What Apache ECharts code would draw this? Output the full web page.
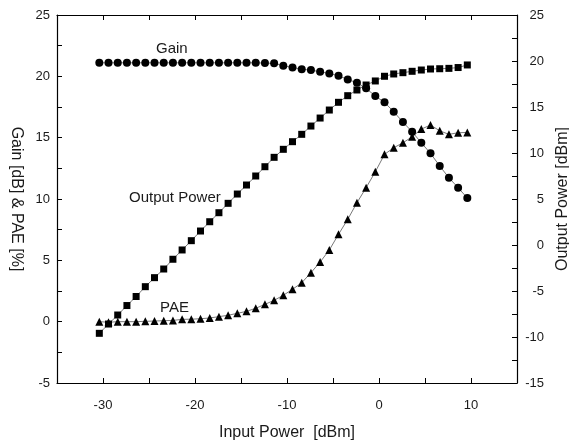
<!DOCTYPE html>
<html>
<head>
<meta charset="utf-8">
<script src="https://cdn.jsdelivr.net/npm/echarts@6/dist/echarts.min.js"></script>
<style>html,body{margin:0;padding:0;background:#fff}#c{width:569px;height:443px}</style>
</head>
<body>
<div id="c"></div>
<script>
var inputPower = [-30.4,-29.4,-28.4,-27.4,-26.4,-25.4,-24.4,-23.4,-22.4,-21.4,-20.4,-19.4,-18.4,-17.4,-16.4,-15.4,-14.4,-13.4,-12.4,-11.4,-10.4,-9.4,-8.4,-7.4,-6.4,-5.4,-4.4,-3.4,-2.4,-1.4,-0.4,0.6,1.6,2.6,3.6,4.6,5.6,6.6,7.6,8.6,9.6];
var gain = [21.1,21.1,21.1,21.1,21.1,21.1,21.1,21.1,21.1,21.1,21.1,21.1,21.1,21.1,21.1,21.1,21.1,21.1,21.08,21.06,20.86,20.73,20.57,20.51,20.37,20.24,20.04,19.75,19.47,19.02,18.39,17.88,17.11,16.27,15.48,14.58,13.72,12.69,11.73,10.92,10.08];
var outputPower = [-9.6,-8.59,-7.61,-6.58,-5.6,-4.53,-3.55,-2.61,-1.55,-0.54,0.47,1.52,2.53,3.51,4.53,5.54,6.52,7.5,8.51,9.53,10.4,11.23,12.03,12.93,13.8,14.67,15.51,16.23,16.85,17.39,17.83,18.34,18.59,18.73,18.88,19.02,19.13,19.16,19.2,19.29,19.57];
var pae = [0.0,-0.05,0.0,0.0,0.0,0.03,0.05,0.08,0.1,0.19,0.2,0.24,0.3,0.41,0.52,0.68,0.84,1.09,1.41,1.74,2.15,2.64,3.17,3.99,4.86,5.84,7.12,8.34,9.69,10.92,12.22,13.64,14.18,14.58,15.07,15.7,16.03,15.56,15.27,15.4,15.43];
var xTickLabels = [-30,-20,-10,0,10];
var leftTickLabels = [-5,0,5,10,15,20,25];
var rightTickLabels = [-15,-10,-5,0,5,10,15,20,25];

function pairs(ys){ return inputPower.map(function(x,i){ return [x, ys[i]]; }); }
function fmt(list){ return function(v){ for (var i=0;i<list.length;i++){ if (Math.abs(list[i]-v)<1e-6) return String(list[i]); } return ''; }; }

var FONT = 'Liberation Sans, Arial, sans-serif';
var axisLine = {show:true, onZero:false, lineStyle:{color:'#000', width:1.2}};
var tick = {show:true, inside:true, length:5, lineStyle:{color:'#000', width:1}};

var chart = echarts.init(document.getElementById('c'), null, {renderer:'canvas'});
chart.setOption({
  animation:false,
  backgroundColor:'#fff',
  grid:{left:57, right:52, top:15, bottom:60, containLabel:false, outerBoundsMode:'none'},
  xAxis:[{
    type:'value', min:-35, max:15, interval:5, position:'bottom',
    name:'Input Power  [dBm]', nameLocation:'middle', nameGap:42,
    nameTextStyle:{fontFamily:FONT, fontSize:16, color:'#1a1a1a'},
    axisLine:axisLine, axisTick:tick, splitLine:{show:false},
    axisLabel:{formatter:fmt(xTickLabels), fontFamily:FONT, fontSize:13, color:'#1a1a1a', margin:16, showMinLabel:true, showMaxLabel:true}
  },{
    type:'value', min:-35, max:15, interval:5, position:'top',
    axisLine:axisLine, axisTick:tick, splitLine:{show:false}, axisLabel:{show:false}
  }],
  yAxis:[{
    type:'value', min:-5, max:25, interval:2.5, position:'left',
    name:'Gain [dB] & PAE [%]', nameLocation:'middle', nameGap:25, nameRotate:-90,
    nameTextStyle:{fontFamily:FONT, fontSize:16, color:'#1a1a1a'},
    axisLine:axisLine, axisTick:tick, splitLine:{show:false},
    axisLabel:{formatter:fmt(leftTickLabels), fontFamily:FONT, fontSize:13, color:'#1a1a1a', margin:7, showMinLabel:true, showMaxLabel:true}
  },{
    type:'value', min:-15, max:25, interval:2.5, position:'right',
    name:'Output Power [dBm]', nameLocation:'middle', nameGap:25, nameRotate:90,
    nameTextStyle:{fontFamily:FONT, fontSize:16, color:'#1a1a1a'},
    axisLine:axisLine, axisTick:tick, splitLine:{show:false},
    axisLabel:{formatter:fmt(rightTickLabels), fontFamily:FONT, fontSize:13, color:'#1a1a1a', margin:27, align:'right', padding:[6,0,0,0], showMinLabel:true, showMaxLabel:true}
  }],
  series:[{
    name:'Gain', type:'line', xAxisIndex:0, yAxisIndex:0, data:pairs(gain),
    symbol:'circle', symbolSize:8, itemStyle:{color:'#000'}, lineStyle:{color:'#555', width:0.8}
  },{
    name:'Output Power', type:'line', xAxisIndex:0, yAxisIndex:1, data:pairs(outputPower),
    symbol:'rect', symbolSize:7, itemStyle:{color:'#000'}, lineStyle:{color:'#555', width:0.8}
  },{
    name:'PAE', type:'line', xAxisIndex:0, yAxisIndex:0, data:pairs(pae),
    symbol:'triangle', symbolSize:8, itemStyle:{color:'#000'}, lineStyle:{color:'#555', width:0.8}
  }],
  graphic:[
    {type:'text', left:156, top:41, style:{text:'Gain', font:'15px '+FONT, fill:'#1a1a1a'}},
    {type:'text', left:129, top:190, style:{text:'Output Power', font:'15px '+FONT, fill:'#1a1a1a'}},
    {type:'text', left:160, top:300, style:{text:'PAE', font:'15px '+FONT, fill:'#1a1a1a'}}
  ]
});
</script>
</body>
</html>
